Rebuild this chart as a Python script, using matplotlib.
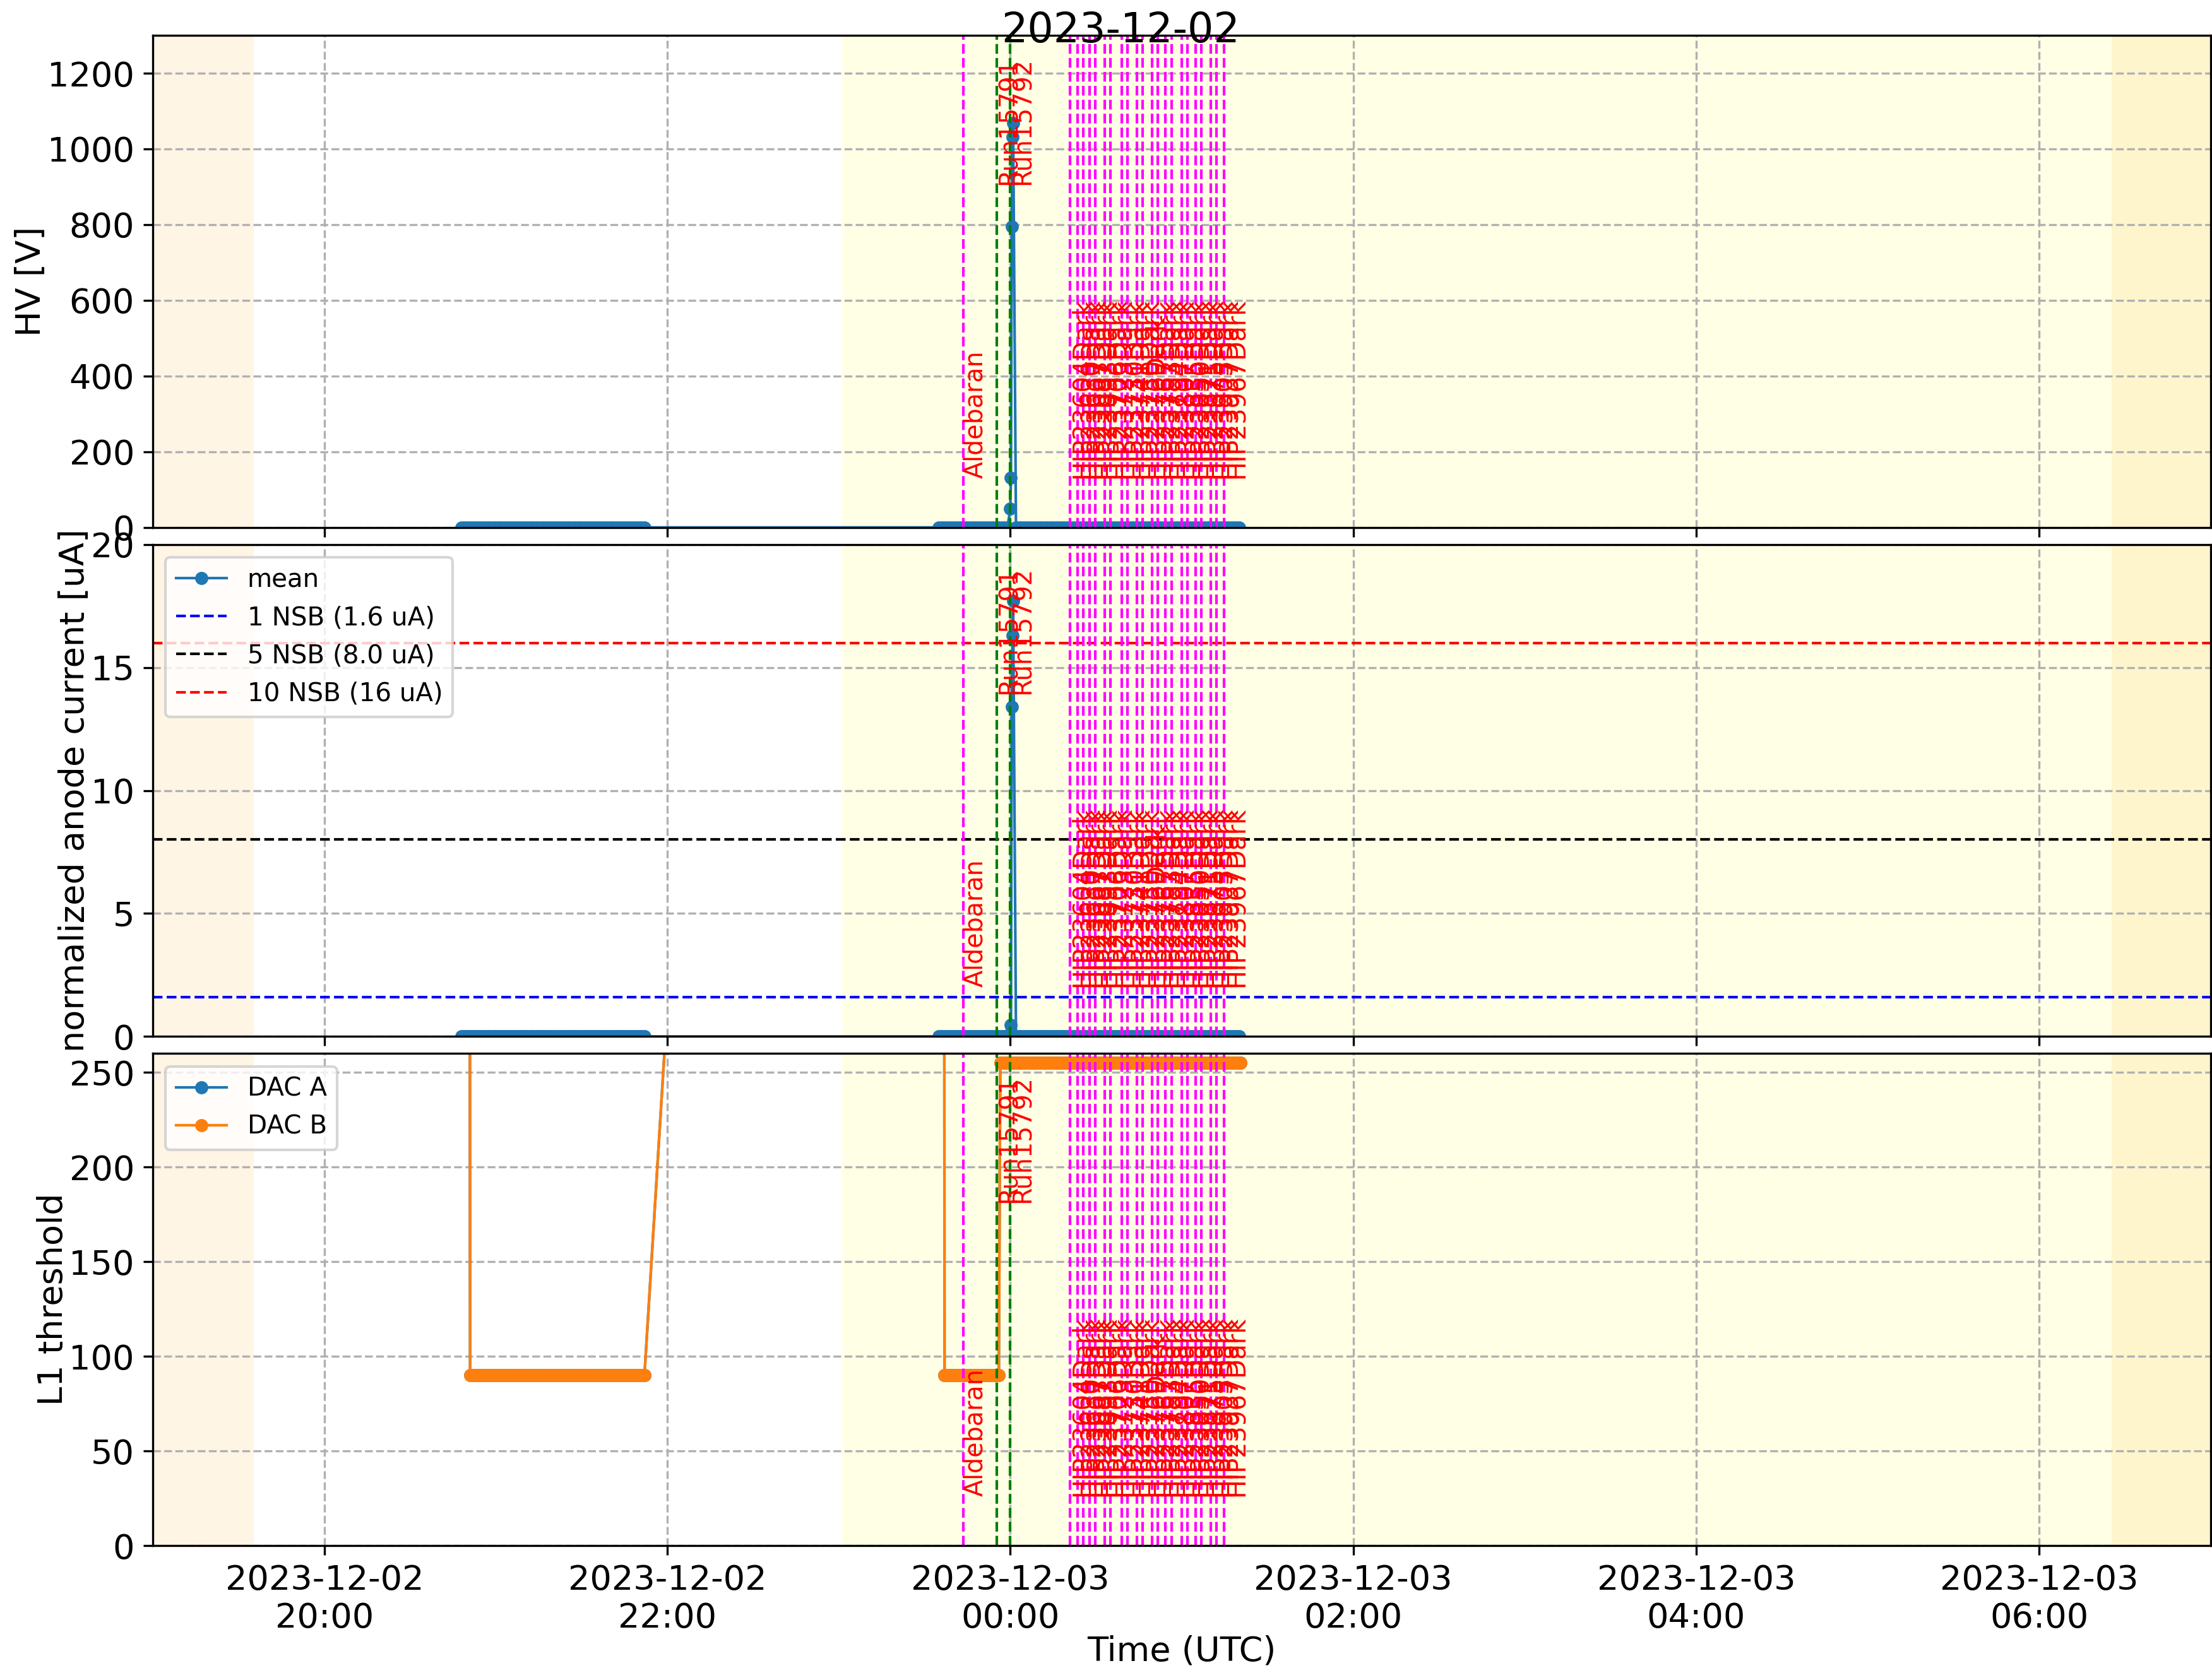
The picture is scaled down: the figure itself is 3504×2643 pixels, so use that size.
import numpy as np
import pandas as pd
import matplotlib
matplotlib.use("Agg")
import matplotlib.pyplot as plt
import matplotlib.dates as mdates

plt.rcParams['font.size'] = 13

# ------------------------------------------------------------------ data
# constant-valued sampling blocks (1-minute cadence)
band_starts = ["2023-12-02 20:48", "2023-12-02 23:35", "2023-12-03 00:02"]
band_ends = ["2023-12-02 21:52", "2023-12-02 23:59", "2023-12-03 01:20"]
band_hv = [0.0, 0.0, 0.0]
band_current = [0.0, 0.0, 0.0]

# HV ramp / current spike around midnight
spike_times = ["2023-12-03 00:00:00", "2023-12-03 00:00:15", "2023-12-03 00:00:30",
               "2023-12-03 00:00:45", "2023-12-03 00:01:00"]
spike_hv = [49, 131, 795, 1032, 1069]
spike_current = [0.1, 0.46, 13.4, 16.3, 17.7]

# L1 threshold (DAC) blocks
dac_starts = ["2023-12-02 20:48", "2023-12-02 20:51", "2023-12-02 23:35",
              "2023-12-02 23:37", "2023-12-02 23:56:30"]
dac_ends = ["2023-12-02 20:50", "2023-12-02 21:52", "2023-12-02 23:36",
            "2023-12-02 23:56", "2023-12-03 01:20:30"]
dac_a_vals = [2600, 90, 2600, 90, 255]
dac_b_vals = [2600, 90, 2600, 90, 255]

# NSB reference levels
nsb_levels = [1.6, 8.0, 16.0]
nsb_labels = ["1 NSB (1.6 uA)", "5 NSB (8.0 uA)", "10 NSB (16 uA)"]
nsb_colors = ["blue", "black", "red"]

# observed targets (magenta) and runs (green)
target_times = ["2023-12-02 23:43:30",
                "2023-12-03 00:20:48", "2023-12-03 00:23:36", "2023-12-03 00:25:36",
                "2023-12-03 00:27:48", "2023-12-03 00:29:42", "2023-12-03 00:33:00",
                "2023-12-03 00:35:00", "2023-12-03 00:39:00", "2023-12-03 00:41:06",
                "2023-12-03 00:44:24", "2023-12-03 00:46:24", "2023-12-03 00:49:42",
                "2023-12-03 00:51:42", "2023-12-03 00:54:18", "2023-12-03 00:56:30",
                "2023-12-03 01:00:00", "2023-12-03 01:02:00", "2023-12-03 01:04:48",
                "2023-12-03 01:06:48", "2023-12-03 01:10:06", "2023-12-03 01:12:06",
                "2023-12-03 01:14:42"]
target_names = ["Aldebaran",
                "HIP23604Dark", "HIP23630Dark", "HIP23667Dark", "HIP23687Dark",
                "HIP23693Dark", "HIP23706Dark", "HIP23723Dark", "HIP23730Dark",
                "HIP23741Dark", "HIP23750Dark", "HIP2376Dark", "HIP23767Dark",
                "HIP23783Dark", "HIP23794Dark", "HIP23807Dark", "HIP23835Dark",
                "HIP23850Dark", "HIP23871Dark", "HIP23875Dark", "HIP23905Dark",
                "HIP23937Dark", "HIP23967Dark"]
run_times = ["2023-12-02 23:55:18", "2023-12-03 00:00:00"]
run_names = ["Run15791", "Run15792"]

# background periods
twilight_spans = [("2023-12-02 18:30", "2023-12-02 19:35:18"),
                  ("2023-12-03 06:25:24", "2023-12-03 07:30")]
moon_spans = [("2023-12-02 23:01:12", "2023-12-03 07:30")]

x_range = ("2023-12-02 19:00", "2023-12-03 07:00")
title_text = "2023-12-02"


# ------------------------------------------------------------------ build series
def blocks(starts, ends, vals):
    ts, vs = [], []
    for s, e, v in zip(starts, ends, vals):
        r = pd.date_range(s, e, freq="1min")
        ts.append(r)
        vs.append(np.full(len(r), v, dtype=float))
    return ts, vs


bt, bhv = blocks(band_starts, band_ends, band_hv)
_, bcur = blocks(band_starts, band_ends, band_current)
sp_t = pd.to_datetime(spike_times)

hv_t = bt[0].append(bt[1]).append(sp_t).append(bt[2])
hv_v = np.concatenate([bhv[0], bhv[1], np.array(spike_hv, float), bhv[2]])
cur_v = np.concatenate([bcur[0], bcur[1], np.array(spike_current, float), bcur[2]])

dt, da = blocks(dac_starts, dac_ends, dac_a_vals)
_, db = blocks(dac_starts, dac_ends, dac_b_vals)
dac_t = dt[0]
for r in dt[1:]:
    dac_t = dac_t.append(r)
dac_a = np.concatenate(da)
dac_b = np.concatenate(db)

# ------------------------------------------------------------------ figure
fig, axes = plt.subplots(3, 1, sharex=True, figsize=(11.68, 8.81), dpi=300)
fig.subplots_adjust(left=0.0691, right=0.9994, top=0.9788, bottom=0.0734,
                    hspace=0.0346)
ax0, ax1, ax2 = axes

for ax in axes:
    for s, e in moon_spans:
        ax.axvspan(pd.Timestamp(s), pd.Timestamp(e), color="yellow", alpha=0.1,
                   lw=0, zorder=0)
    for s, e in twilight_spans:
        ax.axvspan(pd.Timestamp(s), pd.Timestamp(e), color="orange", alpha=0.1,
                   lw=0, zorder=0)
    ax.grid(True, linestyle="--", color="#b0b0b0", lw=0.8)

ax0.plot(hv_t, hv_v, "o-", color="C0", ms=4, lw=1)

ax1.plot(hv_t, cur_v, "o-", color="C0", ms=4, lw=1, label="mean")
for lvl, lab, col in zip(nsb_levels, nsb_labels, nsb_colors):
    ax1.axhline(lvl, color=col, ls="--", lw=1, label=lab)

ax2.plot(dac_t, dac_a, "o-", color="C0", ms=4, lw=1, label="DAC A")
ax2.plot(dac_t, dac_b, "o-", color="C1", ms=4, lw=1, label="DAC B")

for ax in axes:
    tr = ax.get_xaxis_transform()
    for t, name in zip(target_times, target_names):
        tt = pd.Timestamp(t)
        ax.axvline(tt, color="magenta", ls="--", lw=1)
        ax.text(tt, 0.1, name, rotation=90, color="red", fontsize=9.5,
                ha="left", va="bottom", transform=tr)
    for t, name in zip(run_times, run_names):
        tt = pd.Timestamp(t)
        ax.axvline(tt, color="green", ls="--", lw=1)
        ax.text(tt, 0.955, name, rotation=90, color="red", fontsize=9.5,
                ha="left", va="top", transform=tr)

ax0.set_ylim(0, 1300)
ax1.set_ylim(0, 20)
ax2.set_ylim(0, 260)
ax0.set_ylabel("HV [V]", labelpad=0)
ax1.set_ylabel("normalized anode current [uA]", labelpad=0)
ax2.set_ylabel("L1 threshold", labelpad=0)
ax2.set_xlabel("Time (UTC)", labelpad=0)

ax1.legend(loc="upper left", fontsize=9.7)
ax2.legend(loc="upper left", fontsize=9.7)

ax2.set_xlim(pd.Timestamp(x_range[0]), pd.Timestamp(x_range[1]))
ax2.xaxis.set_major_locator(mdates.HourLocator(byhour=range(0, 24, 2)))
ax2.xaxis.set_major_formatter(mdates.DateFormatter("%Y-%m-%d\n%H:%M"))
for lab in ax2.get_xticklabels():
    lab.set_ha("center")

fig.text(0.5066, 0.9747, title_text, ha="center", va="baseline", fontsize=15.6)

fig.savefig("out.png", dpi=300)
